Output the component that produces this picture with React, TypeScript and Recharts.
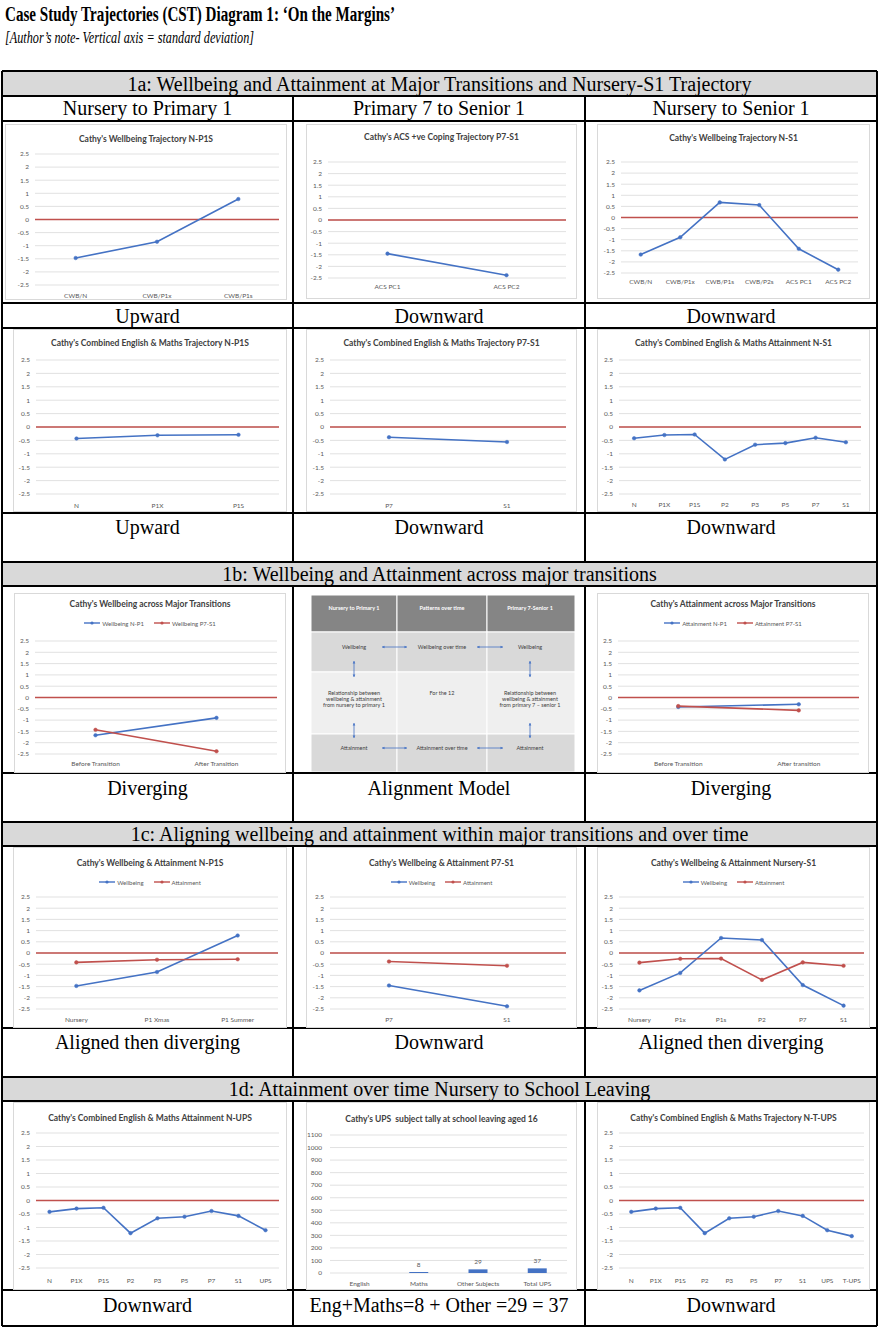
import React from 'react';
import { LineChart, Line, XAxis, YAxis, CartesianGrid, ReferenceLine, BarChart, Bar, LabelList } from 'recharts';

// ---- data ----
const sdTicks = [-2.5, -2, -1.5, -1, -0.5, 0, 0.5, 1, 1.5, 2, 2.5];
const upsTicks = [0, 100, 200, 300, 400, 500, 600, 700, 800, 900, 1000, 1100];

// 1a
const wbNP1Cats = ['CWB/N', 'CWB/P1x', 'CWB/P1s'];
const wbNP1 = [-1.47, -0.85, 0.78];
const acsCats = ['ACS PC1', 'ACS PC2'];
const acsCoping = [-1.45, -2.38];
const wbNS1Cats = ['CWB/N', 'CWB/P1x', 'CWB/P1s', 'CWB/P2s', 'ACS PC1', 'ACS PC2'];
const wbNS1 = [-1.67, -0.89, 0.68, 0.56, -1.41, -2.35];
const attNP1Cats = ['N', 'P1X', 'P1S'];
const attNP1 = [-0.43, -0.31, -0.29];
const attP7S1Cats = ['P7', 'S1'];
const attP7S1 = [-0.38, -0.56];
const attNS1Cats = ['N', 'P1X', 'P1S', 'P2', 'P3', 'P5', 'P7', 'S1'];
const attNS1 = [-0.42, -0.3, -0.28, -1.21, -0.66, -0.6, -0.4, -0.57];

// 1b
const wbTransCats = ['Before Transition', 'After Transition'];
const wbTransNP1 = [-1.67, -0.9];
const wbTransP7S1 = [-1.43, -2.38];
const attTransCats = ['Before Transition', 'After transition'];
const attTransNP1 = [-0.42, -0.3];
const attTransP7S1 = [-0.38, -0.57];

// 1c
const alignNP1Cats = ['Nursery', 'P1 Xmas', 'P1 Summer'];
const alignNP1Wb = [-1.47, -0.85, 0.78];
const alignNP1Att = [-0.42, -0.3, -0.28];
const alignP7S1Cats = ['P7', 'S1'];
const alignP7S1Wb = [-1.45, -2.38];
const alignP7S1Att = [-0.38, -0.57];
const alignNS1Cats = ['Nursery', 'P1x', 'P1s', 'P2', 'P7', 'S1'];
const alignNS1Wb = [-1.67, -0.89, 0.67, 0.58, -1.43, -2.35];
const alignNS1Att = [-0.43, -0.26, -0.25, -1.2, -0.42, -0.57];

// 1d
const upsCats = ['N', 'P1X', 'P1S', 'P2', 'P3', 'P5', 'P7', 'S1', 'UPS'];
const upsAtt = [-0.42, -0.3, -0.27, -1.21, -0.66, -0.6, -0.39, -0.57, -1.1];
const tupsCats = ['N', 'P1X', 'P1S', 'P2', 'P3', 'P5', 'P7', 'S1', 'UPS', 'T-UPS'];
const tupsAtt = [-0.42, -0.3, -0.27, -1.21, -0.66, -0.6, -0.39, -0.57, -1.1, -1.32];
const tallyCats = ['English', 'Maths', 'Other Subjects', 'Total UPS'];
const tally = [0, 8, 29, 37];

// ---- styles ----
const BLUE = '#4472c4';
const RED = '#c0504d';
const GRID = '#d9d9d9';
const INK = '#595959';
const SANS = 'Lato, "Open Sans", sans-serif';
const SERIF = '"Liberation Serif", "DejaVu Serif", serif';

type Frame = { x: number; y: number; w: number; h: number };
type Plot = { l: number; t: number; r: number; b: number };
type Series = { name: string; values: number[]; color: string };
type Cfg = {
  frame: Frame;
  plot: Plot;
  title: string;
  titleY: number;
  legendY?: number;
  xLabelY: number;
  cats: string[];
  series: Series[];
};

const wb = (values: number[]): Series => ({ name: 'Wellbeing', values, color: BLUE });
const att = (values: number[]): Series => ({ name: 'Attainment', values, color: RED });

const lineCharts: Cfg[] = [
  { frame: { x: 5, y: 124, w: 282, h: 176 }, plot: { l: 35, t: 154, r: 279, b: 285 }, title: "Cathy's Wellbeing Trajectory N-P1S", titleY: 139, xLabelY: 296, cats: wbNP1Cats, series: [wb(wbNP1)] },
  { frame: { x: 306, y: 124, w: 271, h: 175 }, plot: { l: 328, t: 162, r: 566, b: 278 }, title: "Cathy's ACS +ve Coping Trajectory P7-S1", titleY: 137, xLabelY: 287, cats: acsCats, series: [wb(acsCoping)] },
  { frame: { x: 597, y: 124, w: 273, h: 175 }, plot: { l: 621, t: 162, r: 858, b: 273 }, title: "Cathy's Wellbeing Trajectory N-S1", titleY: 138, xLabelY: 282, cats: wbNS1Cats, series: [wb(wbNS1)] },
  { frame: { x: 13, y: 329, w: 274, h: 183 }, plot: { l: 36, t: 360, r: 279, b: 494 }, title: "Cathy's Combined English & Maths Trajectory N-P1S", titleY: 343, xLabelY: 506, cats: attNP1Cats, series: [wb(attNP1)] },
  { frame: { x: 306, y: 329, w: 271, h: 183 }, plot: { l: 330, t: 360, r: 566, b: 494 }, title: "Cathy's Combined English & Maths Trajectory P7-S1", titleY: 343, xLabelY: 506, cats: attP7S1Cats, series: [wb(attP7S1)] },
  { frame: { x: 597, y: 329, w: 273, h: 183 }, plot: { l: 619, t: 360, r: 861, b: 494 }, title: "Cathy's Combined English & Maths Attainment N-S1", titleY: 343, xLabelY: 505, cats: attNS1Cats, series: [wb(attNS1)] },
  { frame: { x: 14, y: 593, w: 272, h: 180 }, plot: { l: 35, t: 641, r: 277, b: 754 }, title: "Cathy's Wellbeing across Major Transitions", titleY: 604, legendY: 623, xLabelY: 764, cats: wbTransCats, series: [{ name: 'Wellbeing N-P1', values: wbTransNP1, color: BLUE }, { name: 'Wellbeing P7-S1', values: wbTransP7S1, color: RED }] },
  { frame: { x: 597, y: 593, w: 272, h: 180 }, plot: { l: 618, t: 641, r: 859, b: 754 }, title: "Cathy's Attainment across Major Transitions", titleY: 604, legendY: 623, xLabelY: 764, cats: attTransCats, series: [{ name: 'Attainment N-P1', values: attTransNP1, color: BLUE }, { name: 'Attainment P7-S1', values: attTransP7S1, color: RED }] },
  { frame: { x: 13, y: 847, w: 274, h: 181 }, plot: { l: 36, t: 897, r: 278, b: 1009 }, title: "Cathy's Wellbeing & Attainment N-P1S", titleY: 863, legendY: 882, xLabelY: 1020, cats: alignNP1Cats, series: [wb(alignNP1Wb), att(alignNP1Att)] },
  { frame: { x: 306, y: 847, w: 271, h: 181 }, plot: { l: 330, t: 897, r: 566, b: 1009 }, title: "Cathy's Wellbeing & Attainment P7-S1", titleY: 863, legendY: 882, xLabelY: 1020, cats: alignP7S1Cats, series: [wb(alignP7S1Wb), att(alignP7S1Att)] },
  { frame: { x: 597, y: 847, w: 273, h: 181 }, plot: { l: 619, t: 897, r: 864, b: 1009 }, title: "Cathy's Wellbeing & Attainment Nursery-S1", titleY: 863, legendY: 882, xLabelY: 1020, cats: alignNS1Cats, series: [wb(alignNS1Wb), att(alignNS1Att)] },
  { frame: { x: 13, y: 1102, w: 274, h: 188 }, plot: { l: 36, t: 1133, r: 279, b: 1268 }, title: "Cathy's Combined English & Maths Attainment N-UPS", titleY: 1118, xLabelY: 1281, cats: upsCats, series: [wb(upsAtt)] },
  { frame: { x: 597, y: 1102, w: 273, h: 188 }, plot: { l: 619, t: 1133, r: 864, b: 1268 }, title: "Cathy's Combined English & Maths Trajectory N-T-UPS", titleY: 1118, xLabelY: 1281, cats: tupsCats, series: [wb(tupsAtt)] },
];

const FS = 6.5;
const tickStyle = { fontSize: FS, fill: INK, fontFamily: SANS };

const ChartTitle = ({ frame, y, text }: { frame: Frame; y: number; text: string }) => (
  <div style={{ position: 'absolute', left: 0, width: frame.w, top: y - frame.y - 6, height: 12, lineHeight: '12px', textAlign: 'center', fontFamily: SANS, fontWeight: 700, fontSize: 8.5, color: '#404040', whiteSpace: 'pre' }}>
    {text}
  </div>
);

const LegendRow = ({ frame, y, series }: { frame: Frame; y: number; series: Series[] }) => (
  <div style={{ position: 'absolute', left: 0, width: frame.w, top: y - frame.y - 5, height: 10, display: 'flex', justifyContent: 'center', alignItems: 'center', gap: 10, fontFamily: SANS, fontSize: 6, color: INK }}>
    {series.map((s) => (
      <div key={s.name} style={{ display: 'flex', alignItems: 'center', gap: 2 }}>
        <svg width={16} height={6}>
          <line x1={0} y1={3} x2={16} y2={3} stroke={s.color} strokeWidth={1.4} />
          <circle cx={8} cy={3} r={1.6} fill={s.color} />
        </svg>
        <span>{s.name}</span>
      </div>
    ))}
  </div>
);

const SdLine = ({ cfg }: { cfg: Cfg }) => {
  const { frame, plot, cats, series } = cfg;
  const rows = cats.map((c, i) => {
    const r: Record<string, string | number> = { cat: c };
    series.forEach((s) => (r[s.name] = s.values[i]));
    return r;
  });
  const pad = (plot.r - plot.l) / (2 * cats.length);
  return (
    <div style={{ position: 'absolute', left: frame.x, top: frame.y, width: frame.w, height: frame.h, background: '#fff' }}>
      <div style={{ position: 'absolute', inset: 0, border: `1px solid ${GRID}` }} />
      <LineChart
        width={frame.w}
        height={frame.h}
        data={rows}
        margin={{ top: plot.t - frame.y, right: frame.x + frame.w - plot.r, bottom: 0, left: 0 }}
        style={{ position: 'absolute', left: 0, top: 0 }}
      >
        <CartesianGrid vertical={false} stroke={GRID} strokeWidth={0.8} />
        <XAxis
          dataKey="cat"
          scale="point"
          padding={{ left: pad, right: pad }}
          axisLine={false}
          tickLine={false}
          tickSize={0}
          tickMargin={cfg.xLabelY - plot.b - 0.36 * FS}
          height={frame.y + frame.h - plot.b}
          interval={0}
          tick={tickStyle}
        />
        <YAxis
          type="number"
          domain={[-2.5, 2.5]}
          ticks={sdTicks}
          width={plot.l - frame.x}
          axisLine={false}
          tickLine={false}
          tickSize={0}
          tickMargin={6}
          interval={0}
          tick={tickStyle}
        />
        <ReferenceLine y={0} stroke={RED} strokeWidth={1.4} />
        {series.map((s) => (
          <Line
            key={s.name}
            type="linear"
            dataKey={s.name}
            stroke={s.color}
            strokeWidth={1.6}
            dot={{ r: 1.8, fill: s.color, stroke: s.color, strokeWidth: 0.5 }}
            activeDot={false}
            isAnimationActive={false}
          />
        ))}
      </LineChart>
      <ChartTitle frame={frame} y={cfg.titleY} text={cfg.title} />
      {cfg.legendY !== undefined && <LegendRow frame={frame} y={cfg.legendY} series={series} />}
    </div>
  );
};

const TallyChart = () => {
  const frame = { x: 306, y: 1102, w: 271, h: 188 };
  const plot = { l: 330, t: 1135, r: 567, b: 1273 };
  const xLabelY = 1284;
  const rows = tallyCats.map((c, i) => ({ cat: c, tally: tally[i] }));
  return (
    <div style={{ position: 'absolute', left: frame.x, top: frame.y, width: frame.w, height: frame.h, background: '#fff' }}>
      <div style={{ position: 'absolute', inset: 0, border: `1px solid ${GRID}` }} />
      <BarChart
        width={frame.w}
        height={frame.h}
        data={rows}
        margin={{ top: plot.t - frame.y, right: frame.x + frame.w - plot.r, bottom: 0, left: 0 }}
        style={{ position: 'absolute', left: 0, top: 0 }}
      >
        <CartesianGrid vertical={false} stroke={GRID} strokeWidth={0.8} />
        <XAxis dataKey="cat" axisLine={false} tickLine={false} tickSize={0} tickMargin={xLabelY - plot.b - 0.36 * FS} height={frame.y + frame.h - plot.b} interval={0} tick={tickStyle} />
        <YAxis type="number" domain={[0, 1100]} ticks={upsTicks} width={plot.l - frame.x} axisLine={false} tickLine={false} tickSize={0} tickMargin={8} interval={0} tick={tickStyle} />
        <Bar dataKey="tally" fill={BLUE} barSize={19} isAnimationActive={false}>
          <LabelList dataKey="tally" position="top" offset={5} fontSize={FS} fill={INK} fontFamily={SANS} />
        </Bar>
      </BarChart>
      <ChartTitle frame={frame} y={1119} text="Cathy's UPS  subject tally at school leaving aged 16" />
    </div>
  );
};

// Alignment model: a static diagram, not a chart
const AlignmentModel = () => {
  const x = 311, y = 595, w = 264, h = 177;
  const cols = [0, 86, 176, 264];
  const rowsY = [0, 37, 77, 139, 177];
  const fills = ['#858585', '#d9d9d9', '#efefef', '#d9d9d9'];
  const cx = [43, 131, 219];
  const t = { fontFamily: SANS, fontSize: 5.5, fill: '#404040', textAnchor: 'middle' as const };
  const hArrow = (x1: number, x2: number, yy: number) => (
    <g>
      <line x1={x1} y1={yy} x2={x2} y2={yy} stroke={BLUE} strokeWidth={0.8} />
      <path d={`M${x1} ${yy} l2.5 -1.3 v2.6 z M${x2} ${yy} l-2.5 -1.3 v2.6 z`} fill={BLUE} />
    </g>
  );
  const vArrow = (xx: number, y1: number, y2: number) => (
    <g>
      <line x1={xx} y1={y1} x2={xx} y2={y2} stroke={BLUE} strokeWidth={0.8} />
      <path d={`M${xx} ${y1} l-1.3 2.5 h2.6 z M${xx} ${y2} l-1.3 -2.5 h2.6 z`} fill={BLUE} />
    </g>
  );
  return (
    <svg width={w} height={h} style={{ position: 'absolute', left: x, top: y }}>
      {fills.map((f, r) =>
        cols.slice(0, 3).map((c, ci) => (
          <rect key={`${r}-${ci}`} x={c} y={rowsY[r]} width={cols[ci + 1] - c} height={rowsY[r + 1] - rowsY[r]} fill={f} stroke="#ffffff" strokeWidth={1} />
        ))
      )}
      <g style={{ fontWeight: 700 }}>
        {['Nursery to Primary 1', 'Patterns over time', 'Primary 7-Senior 1'].map((s, i) => (
          <text key={s} x={cx[i]} y={15} {...t} fill="#ffffff">{s}</text>
        ))}
      </g>
      {['Wellbeing', 'Wellbeing over time', 'Wellbeing'].map((s, i) => (
        <text key={i} x={cx[i]} y={54} {...t}>{s}</text>
      ))}
      {['Attainment', 'Attainment over time', 'Attainment'].map((s, i) => (
        <text key={i} x={cx[i]} y={155} {...t}>{s}</text>
      ))}
      {['Relationship between', 'wellbeing & attainment', 'from nursery to primary 1'].map((s, i) => (
        <text key={i} x={cx[0]} y={100 + i * 6.2} {...t}>{s}</text>
      ))}
      <text x={cx[1]} y={100} {...t}>For the 12</text>
      {['Relationship between', 'wellbeing & attainment', 'from primary 7 \u2013 senior 1'].map((s, i) => (
        <text key={i} x={cx[2]} y={100 + i * 6.2} {...t}>{s}</text>
      ))}
      {hArrow(71, 96, 52)}
      {hArrow(166, 192, 52)}
      {hArrow(71, 96, 153)}
      {hArrow(166, 192, 153)}
      {vArrow(cx[0], 66, 82)}
      {vArrow(cx[0], 128, 143)}
      {vArrow(cx[2], 66, 82)}
      {vArrow(cx[2], 128, 143)}
    </svg>
  );
};

// table frame and texts
const L = 2, R = 877, C1 = 293, C2 = 585;
const hLines = [71, 96, 121, 303, 328, 513, 562, 586, 773, 822, 846, 1028, 1077, 1101, 1290, 1326];
const bands = [[71, 96], [562, 586], [822, 846], [1077, 1101]];
const vSpans = [[96, 562], [586, 822], [846, 1077], [1101, 1326]];
const colCx = [147.5, 439, 731];

const docTitle = 'Case Study Trajectories (CST) Diagram 1: \u2018On the Margins\u2019';
const docNote = '[Author\u2019s note- Vertical axis = standard deviation]';
const headers = [
  { y: 84, text: '1a: Wellbeing and Attainment at Major Transitions and Nursery-S1 Trajectory' },
  { y: 574, text: '1b: Wellbeing and Attainment across major transitions' },
  { y: 834, text: '1c: Aligning wellbeing and attainment within major transitions and over time' },
  { y: 1089, text: '1d: Attainment over time Nursery to School Leaving' },
];
const colHeads = ['Nursery to Primary 1', 'Primary 7 to Senior 1', 'Nursery to Senior 1'];
const verdicts = [
  { y: 316, texts: ['Upward', 'Downward', 'Downward'] },
  { y: 527, texts: ['Upward', 'Downward', 'Downward'] },
  { y: 788, texts: ['Diverging', 'Alignment Model', 'Diverging'] },
  { y: 1042, texts: ['Aligned then diverging', 'Downward', 'Aligned then diverging'] },
  { y: 1305, texts: ['Downward', 'Eng+Maths=8 + Other =29 = 37', 'Downward'] },
];

const TableFrame = () => (
  <svg width={879} height={1339} style={{ position: 'absolute', left: 0, top: 0 }}>
    <text x={5} y={21} fontFamily={SERIF} fontWeight={700} fontSize={20} textLength={390} lengthAdjust="spacingAndGlyphs">
      {docTitle}
    </text>
    <text x={5} y={43} fontFamily={SERIF} fontStyle="italic" fontSize={16.5} textLength={249} lengthAdjust="spacingAndGlyphs">
      {docNote}
    </text>
    {bands.map(([a, b]) => (
      <rect key={a} x={L} y={a} width={R - L} height={b - a} fill="#d9d9d9" />
    ))}
    {hLines.map((yy) => (
      <line key={yy} x1={L} y1={yy} x2={R} y2={yy} stroke="#000" strokeWidth={2} />
    ))}
    <line x1={L} y1={71} x2={L} y2={1326} stroke="#000" strokeWidth={2} />
    <line x1={R} y1={71} x2={R} y2={1326} stroke="#000" strokeWidth={2} />
    {vSpans.map(([a, b]) => (
      <g key={a}>
        <line x1={C1} y1={a} x2={C1} y2={b} stroke="#000" strokeWidth={2} />
        <line x1={C2} y1={a} x2={C2} y2={b} stroke="#000" strokeWidth={2} />
      </g>
    ))}
    <g fontFamily={SERIF} fontSize={20} textAnchor="middle" dominantBaseline="central" fill="#000">
      {headers.map((h) => (
        <text key={h.y} x={439.5} y={h.y}>{h.text}</text>
      ))}
      {colHeads.map((s, i) => (
        <text key={s} x={colCx[i]} y={108}>{s}</text>
      ))}
      {verdicts.map((v) =>
        v.texts.map((s, i) => (
          <text key={`${v.y}-${i}`} x={colCx[i]} y={v.y}>{s}</text>
        ))
      )}
    </g>
  </svg>
);

export default function App() {
  return (
    <div style={{ position: 'absolute', left: 0, top: 0, width: 879, height: 1339, background: '#fff', overflow: 'hidden' }}>
      <TableFrame />
      {lineCharts.map((c) => (
        <SdLine key={c.title} cfg={c} />
      ))}
      <AlignmentModel />
      <TallyChart />
    </div>
  );
}
